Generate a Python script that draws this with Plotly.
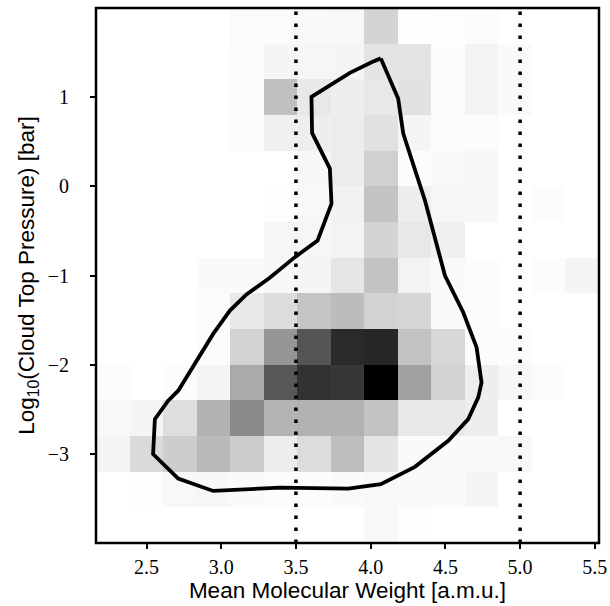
import numpy as np
import plotly.graph_objects as go

# ---- data -------------------------------------------------------------
x_min, x_max = 2.162, 5.528          # histogram range in mean molecular weight
y_min, y_max = -4.0, 2.0             # histogram range in log10 pressure
n_bins = 15

# 2-D histogram density (rows from top y=2.0 down to y=-4.0, cols left->right)
density_top_down = [
    [0, 0, 0, 0, 4, 4, 6, 7, 43, 1, 2, 3, 0, 0, 0],
    [0, 0, 0, 0, 3, 10, 9, 10, 27, 27, 3, 12, 5, 0, 0],
    [0, 0, 0, 0, 3, 63, 23, 17, 23, 29, 4, 12, 5, 0, 0],
    [0, 0, 0, 0, 3, 15, 17, 19, 30, 10, 4, 3, 0, 0, 0],
    [0, 0, 0, 0, 0, 0, 8, 19, 47, 3, 7, 9, 0, 0, 0],
    [0, 0, 0, 0, 0, 1, 7, 13, 60, 18, 9, 8, 0, 3, 0],
    [0, 0, 0, 0, 0, 9, 9, 12, 43, 23, 15, 0, 0, 0, 0],
    [0, 0, 0, 5, 5, 8, 10, 25, 60, 12, 5, 3, 0, 3, 10],
    [0, 0, 0, 3, 23, 35, 59, 67, 45, 42, 5, 3, 0, 0, 0],
    [0, 0, 0, 3, 45, 105, 170, 213, 217, 60, 40, 3, 3, 0, 0],
    [3, 0, 3, 10, 85, 167, 205, 200, 255, 95, 45, 17, 8, 3, 0],
    [7, 10, 33, 77, 117, 75, 77, 77, 60, 23, 23, 17, 0, 0, 0],
    [10, 37, 50, 70, 50, 18, 35, 65, 27, 5, 5, 5, 7, 0, 0],
    [0, 2, 7, 8, 5, 3, 3, 5, 7, 5, 5, 10, 0, 0, 0],
    [0, 0, 0, 0, 0, 0, 0, 0, 7, 2, 0, 0, 0, 0, 0],
]

# contour (closed path)
contour_x = [4.068, 4.184, 4.218, 4.363, 4.497, 4.619, 4.709, 4.742, 4.720,
             4.653, 4.519, 4.296, 4.068, 3.849, 3.392, 2.946, 2.712, 2.544,
             2.556, 2.645, 2.712, 2.946, 3.058, 3.169, 3.325, 3.493, 3.645,
             3.738, 3.727, 3.608, 3.604, 3.816, 3.861, 4.013]
contour_y = [1.435, 0.985, 0.592, -0.157, -1.000, -1.412, -1.806, -2.199, -2.367,
             -2.610, -2.854, -3.146, -3.340, -3.390, -3.379, -3.416, -3.278, -3.003,
             -2.610, -2.404, -2.292, -1.655, -1.393, -1.213, -1.026, -0.794, -0.607,
             -0.194, 0.199, 0.599, 1.003, 1.228, 1.273, 1.397]

vlines_x = [3.5, 5.0]

x_ticks = [2.5, 3.0, 3.5, 4.0, 4.5, 5.0, 5.5]
y_ticks = [-3, -2, -1, 0, 1]

# ---- figure -------------------------------------------------------------
x_edges = np.linspace(x_min, x_max, n_bins + 1)
y_edges = np.linspace(y_min, y_max, n_bins + 1)
z = density_top_down[::-1]

fig = go.Figure()
fig.add_trace(go.Heatmap(
    x=x_edges, y=y_edges, z=z,
    colorscale=[[0, "rgb(255,255,255)"], [1, "rgb(0,0,0)"]],
    zmin=0, zmax=255, showscale=False, hoverinfo="skip",
))
fig.add_trace(go.Scatter(
    x=contour_x + contour_x[:1], y=contour_y + contour_y[:1],
    mode="lines", line=dict(color="black", width=3.8),
    showlegend=False, hoverinfo="skip",
))
for xv in vlines_x:
    fig.add_trace(go.Scatter(
        x=[xv, xv], y=[y_min, y_max], mode="lines",
        line=dict(color="black", width=3.5, dash="3.5px,8.5px"),
        showlegend=False, hoverinfo="skip",
    ))

tick_font = dict(family="Liberation Serif, DejaVu Serif, serif", size=20, color="black")
title_font = dict(family="Liberation Sans, Arial, sans-serif", size=22.5, color="black")

fig.update_xaxes(
    range=[x_min, x_max], tickvals=x_ticks,
    ticktext=[f"{v:.1f}" for v in x_ticks],
    ticks="outside", ticklen=5, tickwidth=1.5, tickcolor="black",
    showline=False, showgrid=False, zeroline=False, tickfont=tick_font,
    ticklabelstandoff=1, automargin=False,
    title=dict(text="Mean Molecular Weight [a.m.u.]", font=title_font, standoff=2),
)
fig.update_yaxes(
    range=[y_min, y_max], tickvals=y_ticks,
    ticktext=[str(v).replace("-", "\u2212") for v in y_ticks],
    ticks="outside", ticklen=5, tickwidth=1.5, tickcolor="black",
    showline=False, showgrid=False, zeroline=False, tickfont=tick_font,
    ticklabelstandoff=17, automargin=False,
    title=dict(text="Log<sub>10</sub>(Cloud Top Pressure) [bar]", font=title_font, standoff=6),
)
fig.add_shape(type="rect", xref="paper", yref="paper", x0=0, y0=0, x1=1, y1=1,
              line=dict(color="black", width=2.5), layer="above")
fig.update_layout(
    width=610, height=606,
    margin=dict(l=96, r=11, t=8, b=63),
    paper_bgcolor="white", plot_bgcolor="white",
    showlegend=False,
)
fig.write_html(
    "out.html",
    config={"displayModeBar": False},
    post_script="document.body.style.margin='0';document.body.style.overflow='hidden';",
)
